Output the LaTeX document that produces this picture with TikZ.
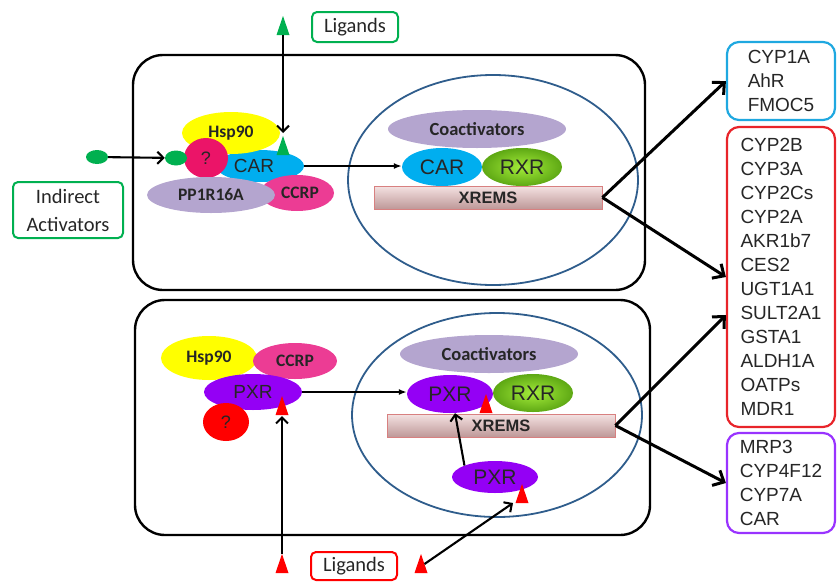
\documentclass[tikz,border=0pt]{standalone}
\usepackage{fontspec}
\setmainfont{Liberation Sans}
\newfontfamily\calfont{Carlito}
\usetikzlibrary{shapes,arrows.meta,positioning,calc}

\definecolor{ligG}{HTML}{00B050}
\definecolor{carblue}{HTML}{00AEEF}
\definecolor{qpink}{HTML}{EB1468}
\definecolor{ccrpink}{HTML}{EC3C94}
\definecolor{lav}{HTML}{B4A5CF}
\definecolor{pxrpur}{HTML}{9400F5}
\definecolor{yel}{HTML}{FFFF00}
\definecolor{nucblue}{HTML}{2F5D8C}
\definecolor{boxblue}{HTML}{1FA8E0}
\definecolor{boxred}{HTML}{E8242A}
\definecolor{boxpur}{HTML}{9933FF}
\definecolor{txt}{HTML}{262626}
\definecolor{rxrin}{HTML}{A4EC3A}
\definecolor{rxrout}{HTML}{5EA814}
\definecolor{xrtop}{HTML}{F4E2E2}
\definecolor{xrbot}{HTML}{BE9898}
\definecolor{xrline}{HTML}{D88080}

\tikzset{
  lig/.pic={
    \fill[#1] (-6.5,0) -- (6.5,0) -- (0,-19) -- cycle;
    \coordinate (-top) at (0,-19);
    \coordinate (-base) at (0,0);
    \coordinate (-side) at (3.5,-9);
  }
}

\begin{document}
\begin{tikzpicture}[x=1pt,y=-1pt,
    cell/.style={draw,line width=2.4pt,rounded corners=30pt,inner sep=0pt},
    nuc/.style={ellipse,draw=nucblue,line width=1.8pt,inner sep=0pt},
    prot/.style={ellipse,inner sep=0pt,text=txt},
    calb/.style={font=\calfont\bfseries\fontsize{17.5}{19}\selectfont},
    rxr/.style={prot,inner color=rxrin,outer color=rxrout,minimum width=80pt,minimum height=38pt,font=\fontsize{21}{24}\selectfont},
    xrems/.style={rectangle,draw=xrline,line width=0.9pt,top color=xrtop,bottom color=xrbot,inner sep=0pt,minimum width=228pt,minimum height=23pt,font=\bfseries\fontsize{16.5}{18}\selectfont,text=txt},
    tag/.style={draw,line width=2pt,rounded corners=5pt,font=\calfont\fontsize{20.5}{28}\selectfont,text=txt,align=center,inner sep=0pt},
    genes/.style={draw,line width=2.2pt,rounded corners=12pt,align=left,font=\fontsize{19}{24}\selectfont,text=txt,minimum width=108pt,inner sep=0pt},
    arr/.style={line width=2.1pt,-{Straight Barb[length=6pt,width=12pt]}},
    bigarr/.style={line width=3pt,-{Straight Barb[length=9pt,width=17pt]}},
    hor/.style={line width=1.6pt,-{Latex[length=8pt,width=6pt]}}]
  \useasboundingbox (0,0) rectangle (837,581);

  % cells and nuclei
  \node[cell,minimum width=512pt,minimum height=235pt] (cellA) at (389,172.5) {};
  \node[cell,minimum width=515pt,minimum height=235pt] (cellB) at (392.5,417.5) {};
  \node[nuc,minimum width=290pt,minimum height=210pt] (nucA) at (493,180) {};
  \node[nuc,minimum width=290pt,minimum height=204pt] (nucB) at (497,415) {};

  % CAR complex in the cytoplasm
  \node[prot,fill=carblue,minimum width=88pt,minimum height=32pt,font=\fontsize{19}{20}\selectfont] (carC) at (260,166) {\hspace*{-12pt}CAR};
  \node[prot,fill=yel,minimum width=98pt,minimum height=42pt,calb] (hspA) at (231,133) {Hsp90};
  \node[prot,fill=qpink,minimum width=44pt,minimum height=40pt,font=\fontsize{18}{20}\selectfont] (qA) at (206,158) {?};
  \node[prot,fill=ccrpink,minimum width=74pt,minimum height=36pt,calb] (ccrpA) at (297,193) {\hspace*{6pt}CCRP};
  \node[prot,fill=lav,minimum width=128pt,minimum height=36pt,calb] (ppA) at (211,195) {PP1R16A};
  \node[prot,fill=ligG,minimum width=22pt,minimum height=15pt] (dotB) at (176,158) {};
  \node[prot,fill=ligG,minimum width=22pt,minimum height=14pt] (dotA) at (97,157) {};
  \draw[arr] (dotA) -- (dotB);

  \node[tag,draw=ligG,minimum width=110pt,minimum height=56pt] (indir) at (68,210) {Indirect\\Activators};
  \node[tag,draw=ligG,minimum width=86pt,minimum height=30pt] (ligsA) at (355,27) {Ligands};
  \pic (ligT) at (283,35) {lig=ligG};
  \pic (ligU) at (283,155) {lig=ligG};
  \draw[arr,shorten >=3pt] (ligT-base) -- (ligU-top);

  % CAR in the nucleus
  \node[prot,fill=lav,minimum width=178pt,minimum height=38pt,font=\calfont\bfseries\fontsize{18.5}{20}\selectfont] (coA) at (477,129) {Coactivators};
  \node[prot,fill=carblue,minimum width=80pt,minimum height=38pt,font=\fontsize{21}{24}\selectfont] (carN) at (442,167) {CAR};
  \node[rxr] (rxrA) at (522,167) {RXR};
  \node[xrems] (xrA) at (488,197.5) {XREMS};
  \draw[hor] (carC.east) -- (carC.east -| carN.west);

  % PXR complex in the cytoplasm
  \node[prot,fill=yel,minimum width=96pt,minimum height=44pt,calb] (hspB) at (209,358) {Hsp90};
  \node[prot,fill=ccrpink,minimum width=84pt,minimum height=36pt,calb] (ccrpB) at (295,361) {CCRP};
  \node[prot,fill=pxrpur,minimum width=98pt,minimum height=36pt,font=\fontsize{19}{20}\selectfont] (pxrC) at (253,392) {PXR};
  \node[prot,fill=red,minimum width=46pt,minimum height=38pt,font=\fontsize{18}{20}\selectfont] (qB) at (226,422) {?};
  \pic (ligQ) at (282,415) {lig=red};

  % PXR in the nucleus
  \node[prot,fill=lav,minimum width=178pt,minimum height=38pt,font=\calfont\bfseries\fontsize{18.5}{20}\selectfont] (coB) at (489,354) {Coactivators};
  \node[prot,fill=pxrpur,minimum width=86pt,minimum height=38pt,font=\fontsize{21}{24}\selectfont] (pxrN) at (450,394) {PXR};
  \node[rxr] (rxrB) at (533,393) {RXR};
  \pic (ligR) at (486,413) {lig=red};
  \node[xrems] (xrB) at (501,425.5) {XREMS};
  \node[prot,fill=pxrpur,minimum width=86pt,minimum height=32pt,font=\fontsize{21}{24}\selectfont] (pxrS) at (495,477) {PXR};
  \pic (ligS) at (522,503) {lig=red};
  \draw[hor] (pxrC.east) -- (pxrC.east -| pxrN.west);
  \draw[arr] (pxrS.north west) -- ([xshift=5pt]pxrN.south);

  \node[tag,draw=red,minimum width=86pt,minimum height=28pt] (ligsB) at (354,566) {Ligands};
  \pic (ligP) at (282,573) {lig=red};
  \pic (ligE) at (421,573) {lig=red};
  \draw[arr,shorten >=1pt] (ligP-top) -- (ligQ-base);
  \draw[arr] (ligE-side) -- ([xshift=-9pt]ligS-base);

  % target genes
  \node[genes,draw=boxblue,minimum height=78pt] (gBlue) at (781,81) {CYP1A\\AhR\\FMOC5};
  \node[genes,draw=boxred,minimum height=300pt] (gRed) at (781,277) {CYP2B\\CYP3A\\CYP2Cs\\CYP2A\\AKR1b7\\CES2\\UGT1A1\\SULT2A1\\GSTA1\\ALDH1A\\OATPs\\MDR1};
  \node[genes,draw=boxpur,minimum height=100pt] (gPur) at (781,483) {MRP3\\CYP4F12\\CYP7A\\CAR};
  \draw[bigarr] (xrA.east) -- (gBlue.west);
  \draw[bigarr] (xrA.east) -- (gRed.west);
  \draw[bigarr] (xrB.east) -- ([yshift=-38pt]gRed.west);
  \draw[bigarr] (xrB.east) -- (gPur.west);
\end{tikzpicture}
\end{document}
